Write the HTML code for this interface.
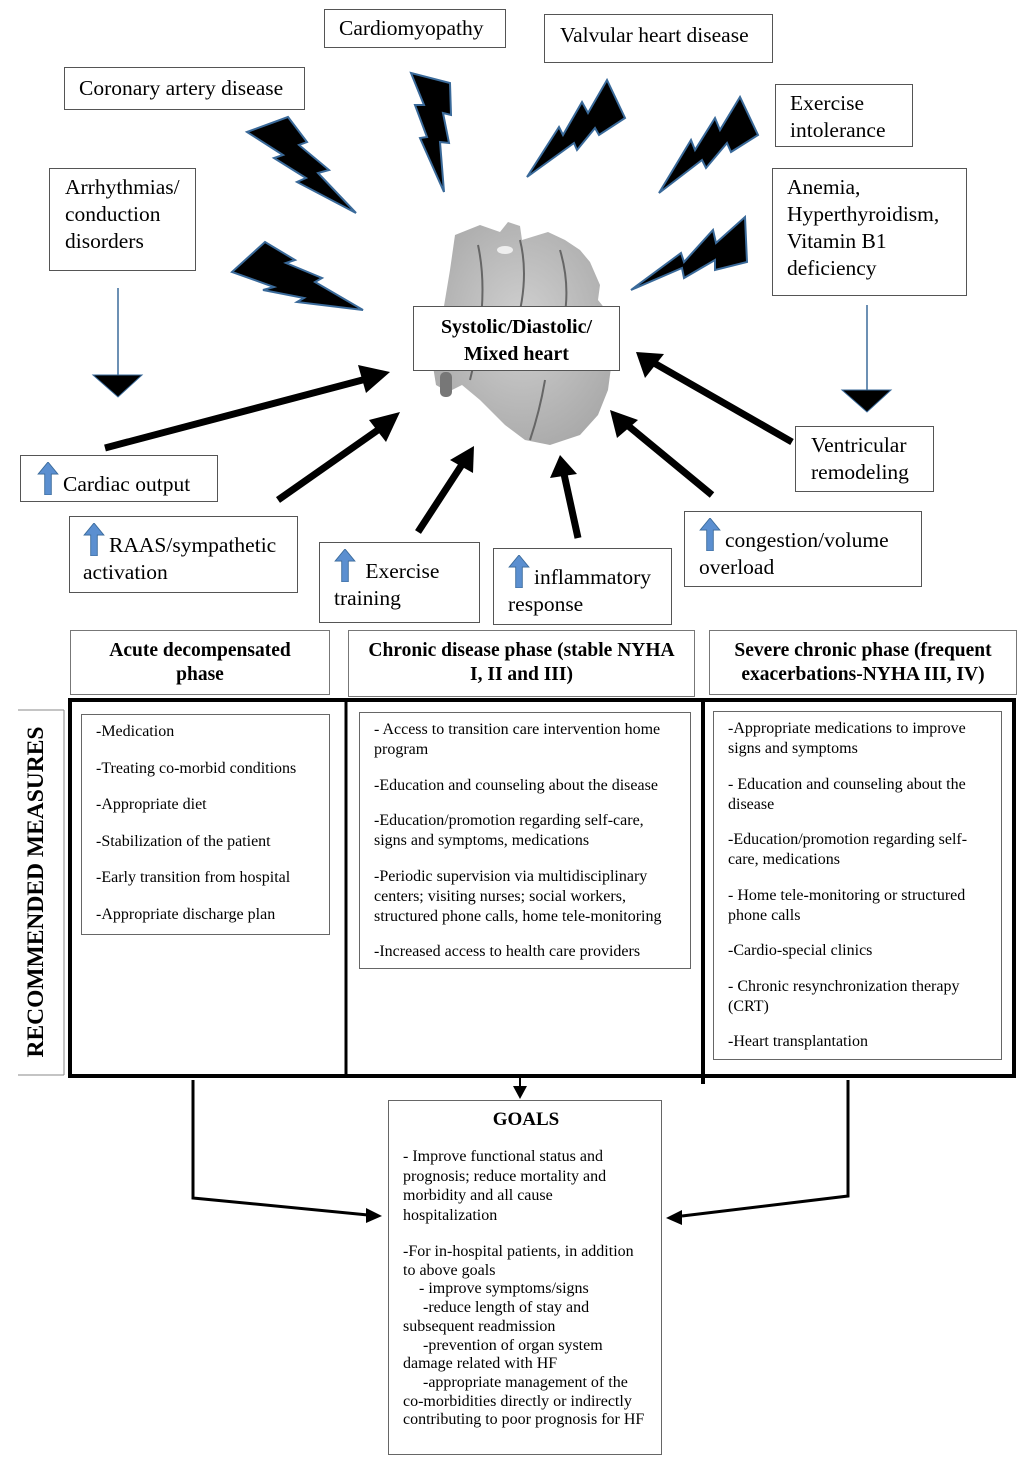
<!DOCTYPE html>
<html><head><meta charset="utf-8">
<style>
body{margin:0;background:#fff;}
#c{position:relative;width:1024px;height:1469px;overflow:hidden;font-family:"Liberation Serif",serif;color:#000;}
.b{position:absolute;border:1px solid #555;background:#fff;box-sizing:border-box;font-size:21.5px;line-height:27px;white-space:nowrap;}
.h{position:absolute;box-sizing:border-box;border:1px solid #777;background:#fff;font-weight:bold;font-size:19.5px;line-height:24px;text-align:center;padding-top:8px;white-space:nowrap;}
.in{position:absolute;box-sizing:border-box;border:1px solid #666;font-size:16px;line-height:20px;padding:6px 14px 0 14px;}
.in p{margin:0 0 16.5px 0;}
.in.t p{margin-bottom:15.5px;}
.up{display:inline-block;vertical-align:-4px;margin-right:4px;}
svg{position:absolute;left:0;top:0;}
</style></head><body><div id="c">
<svg width="1024" height="1469">
<defs><radialGradient id="hg" cx="50%" cy="45%" r="60%"><stop offset="0" stop-color="#c8c8c8"/><stop offset="1" stop-color="#9a9a9a"/></radialGradient></defs>
<g>
<path d="M455 235 L480 225 L500 232 L508 222 L520 226 L522 240 L548 232 L565 240 L580 250 L590 262 L600 285 L598 300 L610 315 L612 360 L608 390 L598 415 L580 435 L550 445 L525 440 L505 425 L480 400 L462 385 L448 392 L436 385 L432 360 L440 330 L445 300 L450 270 Z" fill="url(#hg)" opacity="0.85"/>
<path d="M478 245 Q490 300 470 380 M520 240 Q530 280 515 330 M560 250 Q575 300 555 350 M545 380 Q540 410 530 440" stroke="#666" stroke-width="2" fill="none"/>
<ellipse cx="505" cy="250" rx="8" ry="4" fill="#eee"/>
<rect x="440" y="372" width="12" height="25" rx="5" fill="#777"/>
</g>
<g fill="#000" stroke="#3a6a9a" stroke-width="2" stroke-linejoin="miter">
<polygon points="247,132 288,117 307,142 299,145 329,170 318,173 356,213 297,182 306,178 274,158 283,155"/>
<polygon points="411,73 450,83 451,115 443,113 449,143 440,142 444,192 420,138 427,137 415,105 424,105"/>
<polygon points="527,177 559,127 563,135 582,102 588,113 607,80 625,118 599,135 595,128 577,150 574,143"/>
<polygon points="659,193 691,140 695,150 715,118 720,130 740,97 758,135 731,152 727,143 706,168 702,160"/>
<polygon points="232,272 265,242 295,260 286,263 322,278 315,282 363,310 297,302 304,298 263,290 274,287"/>
<polygon points="631,290 681,253 684,262 713,230 716,243 745,217 747,262 715,270 715,260 684,278 682,268"/>
</g>
<line x1="118" y1="288" x2="118" y2="376" stroke="#3a6a9a" stroke-width="1.5"/>
<polygon points="93,375 142,375 118,397" fill="#000" stroke="#3a6a9a"/>
<line x1="867" y1="305" x2="867" y2="391" stroke="#3a6a9a" stroke-width="1.5"/>
<polygon points="842,390 891,390 867,412" fill="#000" stroke="#3a6a9a"/>
<g stroke="#000" stroke-width="7" fill="#000">
<line x1="105" y1="448" x2="370" y2="378"/>
<line x1="278" y1="500" x2="385" y2="425"/>
<line x1="418" y1="532" x2="463" y2="463"/>
<line x1="578" y1="538" x2="564" y2="474"/>
<line x1="712" y1="495" x2="626" y2="424"/>
<line x1="792" y1="442" x2="654" y2="363"/>
</g>
<g fill="#000">
<polygon points="390,372 358,365 366,393"/>
<polygon points="400,412 369,420 386,442"/>
<polygon points="474,446 450,460 473,473"/>
<polygon points="560,455 550,478 577,474"/>
<polygon points="610,410 617,438 638,420"/>
<polygon points="636,352 645,378 664,354"/>
</g>
<rect x="70" y="700" width="944" height="376" fill="none" stroke="#000" stroke-width="4"/>
<line x1="346" y1="700" x2="346" y2="1076" stroke="#000" stroke-width="3"/>
<line x1="703" y1="700" x2="703" y2="1084" stroke="#000" stroke-width="4"/>
<line x1="18" y1="710" x2="64" y2="710" stroke="#888"/>
<line x1="18" y1="1075" x2="64" y2="1075" stroke="#888"/>
<line x1="64" y1="710" x2="64" y2="1075" stroke="#888"/>
<polyline points="193,1080 193,1198 368,1215" fill="none" stroke="#000" stroke-width="3"/>
<polygon points="382,1216 366,1208 366,1223" fill="#000"/>
<polyline points="848,1080 848,1196 682,1216" fill="none" stroke="#000" stroke-width="3"/>
<polygon points="666,1218 682,1210 682,1225" fill="#000"/>
<line x1="520" y1="1078" x2="520" y2="1088" stroke="#000" stroke-width="2"/>
<polygon points="513,1086 527,1086 520,1099" fill="#000"/>
</svg>

<div class="b" style="left:64px;top:67px;width:241px;height:43px;padding:7px 0 0 14px;">Coronary artery disease</div>
<div class="b" style="left:324px;top:9px;width:182px;height:39px;padding:5px 0 0 14px;">Cardiomyopathy</div>
<div class="b" style="left:544px;top:14px;width:229px;height:49px;padding:7px 0 0 15px;">Valvular heart disease</div>
<div class="b" style="left:775px;top:84px;width:138px;height:63px;padding:5px 0 0 14px;">Exercise<br>intolerance</div>
<div class="b" style="left:49px;top:168px;width:147px;height:103px;padding:5px 0 0 15px;">Arrhythmias/<br>conduction<br>disorders</div>
<div class="b" style="left:772px;top:168px;width:195px;height:128px;padding:5px 0 0 14px;">Anemia,<br>Hyperthyroidism,<br>Vitamin B1<br>deficiency</div>
<div class="b" style="left:413px;top:306px;width:207px;height:65px;padding:7px 0 0 0;text-align:center;font-weight:bold;font-size:20px;">Systolic/Diastolic/<br>Mixed heart</div>
<div class="b" style="left:795px;top:426px;width:139px;height:66px;padding:5px 0 0 15px;">Ventricular<br>remodeling</div>

<div class="b" style="left:20px;top:455px;width:198px;height:47px;padding:6px 0 0 16px;"><svg class="up" style="position:static" width="22" height="33" viewBox="0 0 20 30"><polygon points="10,0 19,11 13,11 13,30 7,30 7,11 1,11" fill="#5b8fd0" stroke="#3a6a9a" stroke-width="0.8"/></svg>Cardiac output</div>
<div class="b" style="left:69px;top:516px;width:229px;height:77px;padding:6px 0 0 13px;"><svg class="up" style="position:static" width="22" height="33" viewBox="0 0 20 30"><polygon points="10,0 19,11 13,11 13,30 7,30 7,11 1,11" fill="#5b8fd0" stroke="#3a6a9a" stroke-width="0.8"/></svg>RAAS/sympathetic<br>activation</div>
<div class="b" style="left:319px;top:542px;width:161px;height:81px;padding:6px 0 0 14px;"><svg class="up" style="position:static" width="22" height="33" viewBox="0 0 20 30"><polygon points="10,0 19,11 13,11 13,30 7,30 7,11 1,11" fill="#5b8fd0" stroke="#3a6a9a" stroke-width="0.8"/></svg> Exercise<br>training</div>
<div class="b" style="left:493px;top:548px;width:179px;height:77px;padding:6px 0 0 14px;"><svg class="up" style="position:static" width="22" height="33" viewBox="0 0 20 30"><polygon points="10,0 19,11 13,11 13,30 7,30 7,11 1,11" fill="#5b8fd0" stroke="#3a6a9a" stroke-width="0.8"/></svg>inflammatory<br>response</div>
<div class="b" style="left:684px;top:511px;width:238px;height:76px;padding:6px 0 0 14px;"><svg class="up" style="position:static" width="22" height="33" viewBox="0 0 20 30"><polygon points="10,0 19,11 13,11 13,30 7,30 7,11 1,11" fill="#5b8fd0" stroke="#3a6a9a" stroke-width="0.8"/></svg>congestion/volume<br>overload</div>

<div class="h" style="left:70px;top:630px;width:260px;height:65px;">Acute decompensated<br>phase</div>
<div class="h" style="left:348px;top:630px;width:347px;height:67px;">Chronic disease phase (stable NYHA<br>I, II and III)</div>
<div class="h" style="left:709px;top:630px;width:308px;height:65px;">Severe chronic phase (frequent<br>exacerbations-NYHA III, IV)</div>

<div style="position:absolute;left:36px;top:892px;width:0;height:0;">
<div style="position:absolute;left:-200px;top:-14px;width:400px;text-align:center;transform:rotate(-90deg);font-weight:bold;font-size:23.5px;line-height:28px;white-space:nowrap;">RECOMMENDED MEASURES</div></div>

<div class="in" style="left:81px;top:714px;width:249px;height:221px;padding-top:7px;">
<p>-Medication</p><p>-Treating co-morbid conditions</p><p>-Appropriate diet</p><p>-Stabilization of the patient</p><p>-Early transition from hospital</p><p>-Appropriate discharge plan</p></div>
<div class="in t" style="left:359px;top:712px;width:332px;height:257px;padding-top:7px;">
<p>- Access to transition care intervention home program</p><p>-Education and counseling about the disease</p><p>-Education/promotion regarding self-care, signs and symptoms, medications</p><p>-Periodic supervision via multidisciplinary centers; visiting nurses; social workers, structured phone calls, home tele-monitoring</p><p>-Increased access to health care providers</p></div>
<div class="in t" style="left:713px;top:711px;width:289px;height:349px;padding-top:7px;">
<p>-Appropriate medications to improve signs and symptoms</p><p>- Education and counseling about the disease</p><p>-Education/promotion regarding self-care, medications</p><p>- Home tele-monitoring or structured phone calls</p><p>-Cardio-special clinics</p><p>- Chronic resynchronization therapy (CRT)</p><p>-Heart transplantation</p></div>

<div class="in" style="left:388px;top:1100px;width:274px;height:355px;border-color:#666;padding:9px 12px 0 14px;font-size:16px;line-height:19.8px;">
<div style="text-align:center;font-weight:bold;font-size:19px;margin-bottom:17px;">GOALS</div>
<div style="margin-bottom:17px;">- Improve functional status and prognosis; reduce mortality and morbidity and all cause hospitalization</div>
<div style="line-height:18.7px;">-For in-hospital patients, in addition to above goals<br>&nbsp;&nbsp;&nbsp;&nbsp;- improve symptoms/signs<br>&nbsp;&nbsp;&nbsp;&nbsp;&nbsp;-reduce length of stay and subsequent readmission<br>&nbsp;&nbsp;&nbsp;&nbsp;&nbsp;-prevention of organ system damage related with HF<br>&nbsp;&nbsp;&nbsp;&nbsp;&nbsp;-appropriate management of the co-morbidities directly or indirectly contributing to poor prognosis for HF</div>
</div>
</div></body></html>
